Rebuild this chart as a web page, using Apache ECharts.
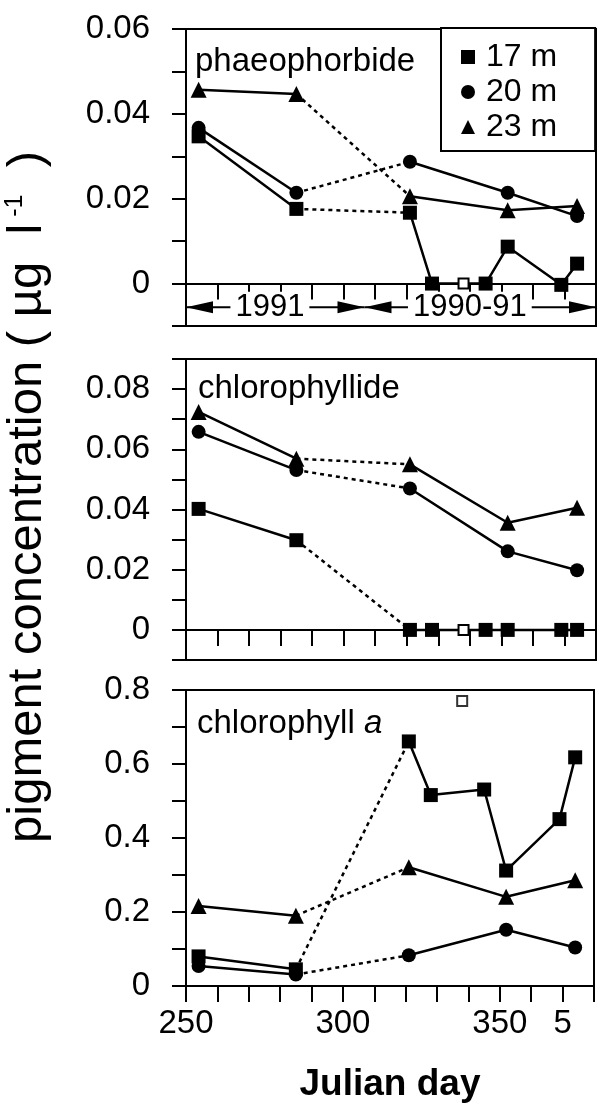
<!DOCTYPE html>
<html><head><meta charset="utf-8">
<script src="https://cdn.jsdelivr.net/npm/echarts@6/dist/echarts.min.js"></script>
<style>html,body{margin:0;padding:0;background:#fff}#c{width:597px;height:1104px}</style>
</head><body><div id="c"></div>
<script>
// ---- data ----
const days17 = [254, 285, 321, 328, 338, 345, 352, 369, 374];
const days2023 = [254, 285, 321, 352, 374];
const openDay = 338; // open-square sample (17 m)
// phaeophorbide (µg/l)
const phaeo17 = [0.0347, 0.0176, 0.0167, 0, 0, 0, 0.0087, -0.0003, 0.0047];
const phaeo20 = [0.0367, 0.0214, 0.0287, 0.0214, 0.0159];
const phaeo23 = [0.0457, 0.0447, 0.0206, 0.0173, 0.0183];
// chlorophyllide
const chlide17 = [0.0402, 0.0298, 0, 0, 0, 0, 0, 0, 0];
const chlide20 = [0.0658, 0.0531, 0.047, 0.0261, 0.0198];
const chlide23 = [0.0724, 0.0569, 0.055, 0.0356, 0.0406];
// chlorophyll a (338 value off the line, shown as open square)
const chla17 = [0.080, 0.045, 0.661, 0.516, null, 0.531, 0.312, 0.451, 0.618];
const chla17Open = 0.770;
const chla20 = [0.054, 0.031, 0.083, 0.152, 0.104];
const chla23 = [0.216, 0.190, 0.321, 0.241, 0.286];
// axes
const panelNames = ['phaeophorbide', 'chlorophyllide', 'chlorophyll a'];
const yMin = [-0.01, -0.01, 0];
const yMax = [0.06, 0.09, 0.8];
const yStep = [0.01, 0.01, 0.1];
const xLabelMap = {250: '250', 300: '300', 350: '350', 370: '5'};
const depthNames = ['17 m', '20 m', '23 m'];
const depthSymbols = ['rect', 'circle', 'triangle'];
// period annotation (panel 1)
const periodLabels = ['1991', '1990-91'];
const periodStart = [250, 306.6];
const periodEnd = [306.6, 380];
const periodLabelDay = [276.6, 340];
const periodY = -0.0056;

const FONT = '"Liberation Sans", Arial, Helvetica, sans-serif';
const chart = echarts.init(document.getElementById('c'), null, {renderer: 'canvas'});

const gridPos = [{top: 29, height: 297}, {top: 359, height: 301}, {top: 690, height: 298}];
const grids = gridPos.map(g => ({left: 186, right: 1, top: g.top, height: g.height, show: true, borderColor: '#000', borderWidth: 2}));

const xAxes = gridPos.map((g, i) => ({
  gridIndex: i, type: 'value', min: 250, max: 380, interval: 10,
  axisLine: {lineStyle: {color: '#000', width: 2}},
  axisTick: {length: 16, lineStyle: {color: '#000', width: 2}},
  axisLabel: {show: i === 2, color: '#000', fontSize: 33, fontFamily: FONT, margin: 21,
    formatter: v => xLabelMap[Math.round(v)] || ''},
  splitLine: {show: false},
  name: i === 2 ? 'Julian day' : '', nameLocation: 'middle', nameGap: 80,
  nameTextStyle: {fontSize: 37, fontWeight: 'bold', color: '#000', fontFamily: FONT}
}));

const yAxes = gridPos.map((g, i) => ({
  gridIndex: i, type: 'value', min: yMin[i], max: yMax[i], interval: yStep[i],
  axisLine: {show: true, lineStyle: {color: '#000', width: 2}},
  axisTick: {show: true, length: 14, lineStyle: {color: '#000', width: 2}},
  axisLabel: {color: '#000', fontSize: 33, fontFamily: FONT, margin: 36,
    formatter: v => {
      const k = Math.round(v / yStep[i]);
      if (k < 0 || k % 2 !== 0) return '';
      if (k === 0) return '0';
      return (k * yStep[i]).toFixed(yStep[i] < 0.05 ? 2 : 1);
    }},
  splitLine: {show: false}
}));

const series = [];
function addDepth(name, symbol, days, vals, gi, openVal) {
  const pts = [];
  days.forEach((d, k) => { if (vals[k] !== null) pts.push([d, vals[k]]); });
  const size = symbol === 'triangle' ? 16 : 14;
  const mk = p => (p[0] === openDay ? {value: p, symbolSize: 10, itemStyle: {color: '#fff', borderColor: '#000', borderWidth: 2}} : p);
  const seg1 = pts.filter(p => p[0] <= 285);
  const seg3 = pts.filter(p => p[0] >= 321);
  const seg2 = [seg1[seg1.length - 1], seg3[0]];
  const base = {name, type: 'line', xAxisIndex: gi, yAxisIndex: gi, symbol, symbolSize: size,
    color: '#000', itemStyle: {color: '#000'}, animation: false};
  series.push(Object.assign({}, base, {data: seg2, showSymbol: false, z: 1,
    lineStyle: {color: '#000', width: 2.5, type: [4, 4]}}));
  series.push(Object.assign({}, base, {data: seg1.map(mk), z: 3, lineStyle: {color: '#000', width: 2.5}}));
  series.push(Object.assign({}, base, {data: seg3.map(mk), z: 3, lineStyle: {color: '#000', width: 2.5}}));
  if (openVal !== undefined) {
    series.push({name, type: 'scatter', xAxisIndex: gi, yAxisIndex: gi, symbol: 'rect', symbolSize: 10, z: 4,
      itemStyle: {color: '#fff', borderColor: '#000', borderWidth: 2}, data: [[openDay, openVal]], animation: false});
  }
}
addDepth(depthNames[0], depthSymbols[0], days17, phaeo17, 0);
addDepth(depthNames[1], depthSymbols[1], days2023, phaeo20, 0);
addDepth(depthNames[2], depthSymbols[2], days2023, phaeo23, 0);
addDepth(depthNames[0], depthSymbols[0], days17, chlide17, 1);
addDepth(depthNames[1], depthSymbols[1], days2023, chlide20, 1);
addDepth(depthNames[2], depthSymbols[2], days2023, chlide23, 1);
addDepth(depthNames[0], depthSymbols[0], days17, chla17, 2, chla17Open);
addDepth(depthNames[1], depthSymbols[1], days2023, chla20, 2);
addDepth(depthNames[2], depthSymbols[2], days2023, chla23, 2);

const option = {
  backgroundColor: '#fff',
  animation: false,
  grid: grids, xAxis: xAxes, yAxis: yAxes, series,
  legend: {orient: 'vertical', left: 441, top: 28, padding: [13, 38, 8, 20], itemGap: 3,
    itemWidth: 14, itemHeight: 14, borderColor: '#000', borderWidth: 2, backgroundColor: '#fff',
    selectedMode: false, z: 10,
    textStyle: {fontSize: 32, color: '#000', fontFamily: FONT, padding: [0, 0, 0, 6]},
    data: depthNames.map((n, k) => ({name: n, icon: depthSymbols[k], itemStyle: {color: '#000'}}))}
};
chart.setOption(option);

// annotations
const g = [];
g.push({type: 'text', x: 27, y: 497, rotation: Math.PI / 2, z: 20,
  style: {text: '{a|pigment concentration ( µg  l}{s| -1}{a|  )}', textAlign: 'center', textVerticalAlign: 'middle',
    rich: {a: {fontSize: 49, fontFamily: FONT, color: '#000'},
           s: {fontSize: 25, fontFamily: FONT, color: '#000', verticalAlign: 'top'}}}});
g.push({type: 'text', x: 195, y: 62, z: 20, style: {text: panelNames[0], font: '33px ' + FONT, fill: '#000', textAlign: 'left', textVerticalAlign: 'middle'}});
g.push({type: 'text', x: 198, y: 389, z: 20, style: {text: panelNames[1], font: '33px ' + FONT, fill: '#000', textAlign: 'left', textVerticalAlign: 'middle'}});
g.push({type: 'text', x: 197, y: 724, z: 20, style: {text: '{a|chlorophyll }{i|a}', textAlign: 'left', textVerticalAlign: 'middle',
  rich: {a: {fontSize: 33, fontFamily: FONT, color: '#000'}, i: {fontSize: 33, fontFamily: FONT, fontStyle: 'italic', color: '#000'}}}});
periodLabels.forEach((lab, k) => {
  const a = chart.convertToPixel({gridIndex: 0}, [periodStart[k], periodY]);
  const b = chart.convertToPixel({gridIndex: 0}, [periodEnd[k], periodY]);
  const c = chart.convertToPixel({gridIndex: 0}, [periodLabelDay[k], periodY]);
  const L = 27, H = 6;
  g.push({type: 'line', z: 20, shape: {x1: a[0], y1: a[1], x2: b[0], y2: b[1]}, style: {stroke: '#000', lineWidth: 2}});
  g.push({type: 'polygon', z: 21, shape: {points: [[a[0], a[1]], [a[0] + L, a[1] - H], [a[0] + L, a[1] + H]]}, style: {fill: '#000'}});
  g.push({type: 'polygon', z: 21, shape: {points: [[b[0], b[1]], [b[0] - L, b[1] - H], [b[0] - L, b[1] + H]]}, style: {fill: '#000'}});
  g.push({type: 'text', z: 22, x: c[0], y: c[1], style: {text: lab, font: '31px ' + FONT, fill: '#000',
    textAlign: 'center', textVerticalAlign: 'middle', backgroundColor: '#fff', padding: [0, 5, 0, 5]}});
});
chart.setOption({graphic: g});
</script></body></html>
